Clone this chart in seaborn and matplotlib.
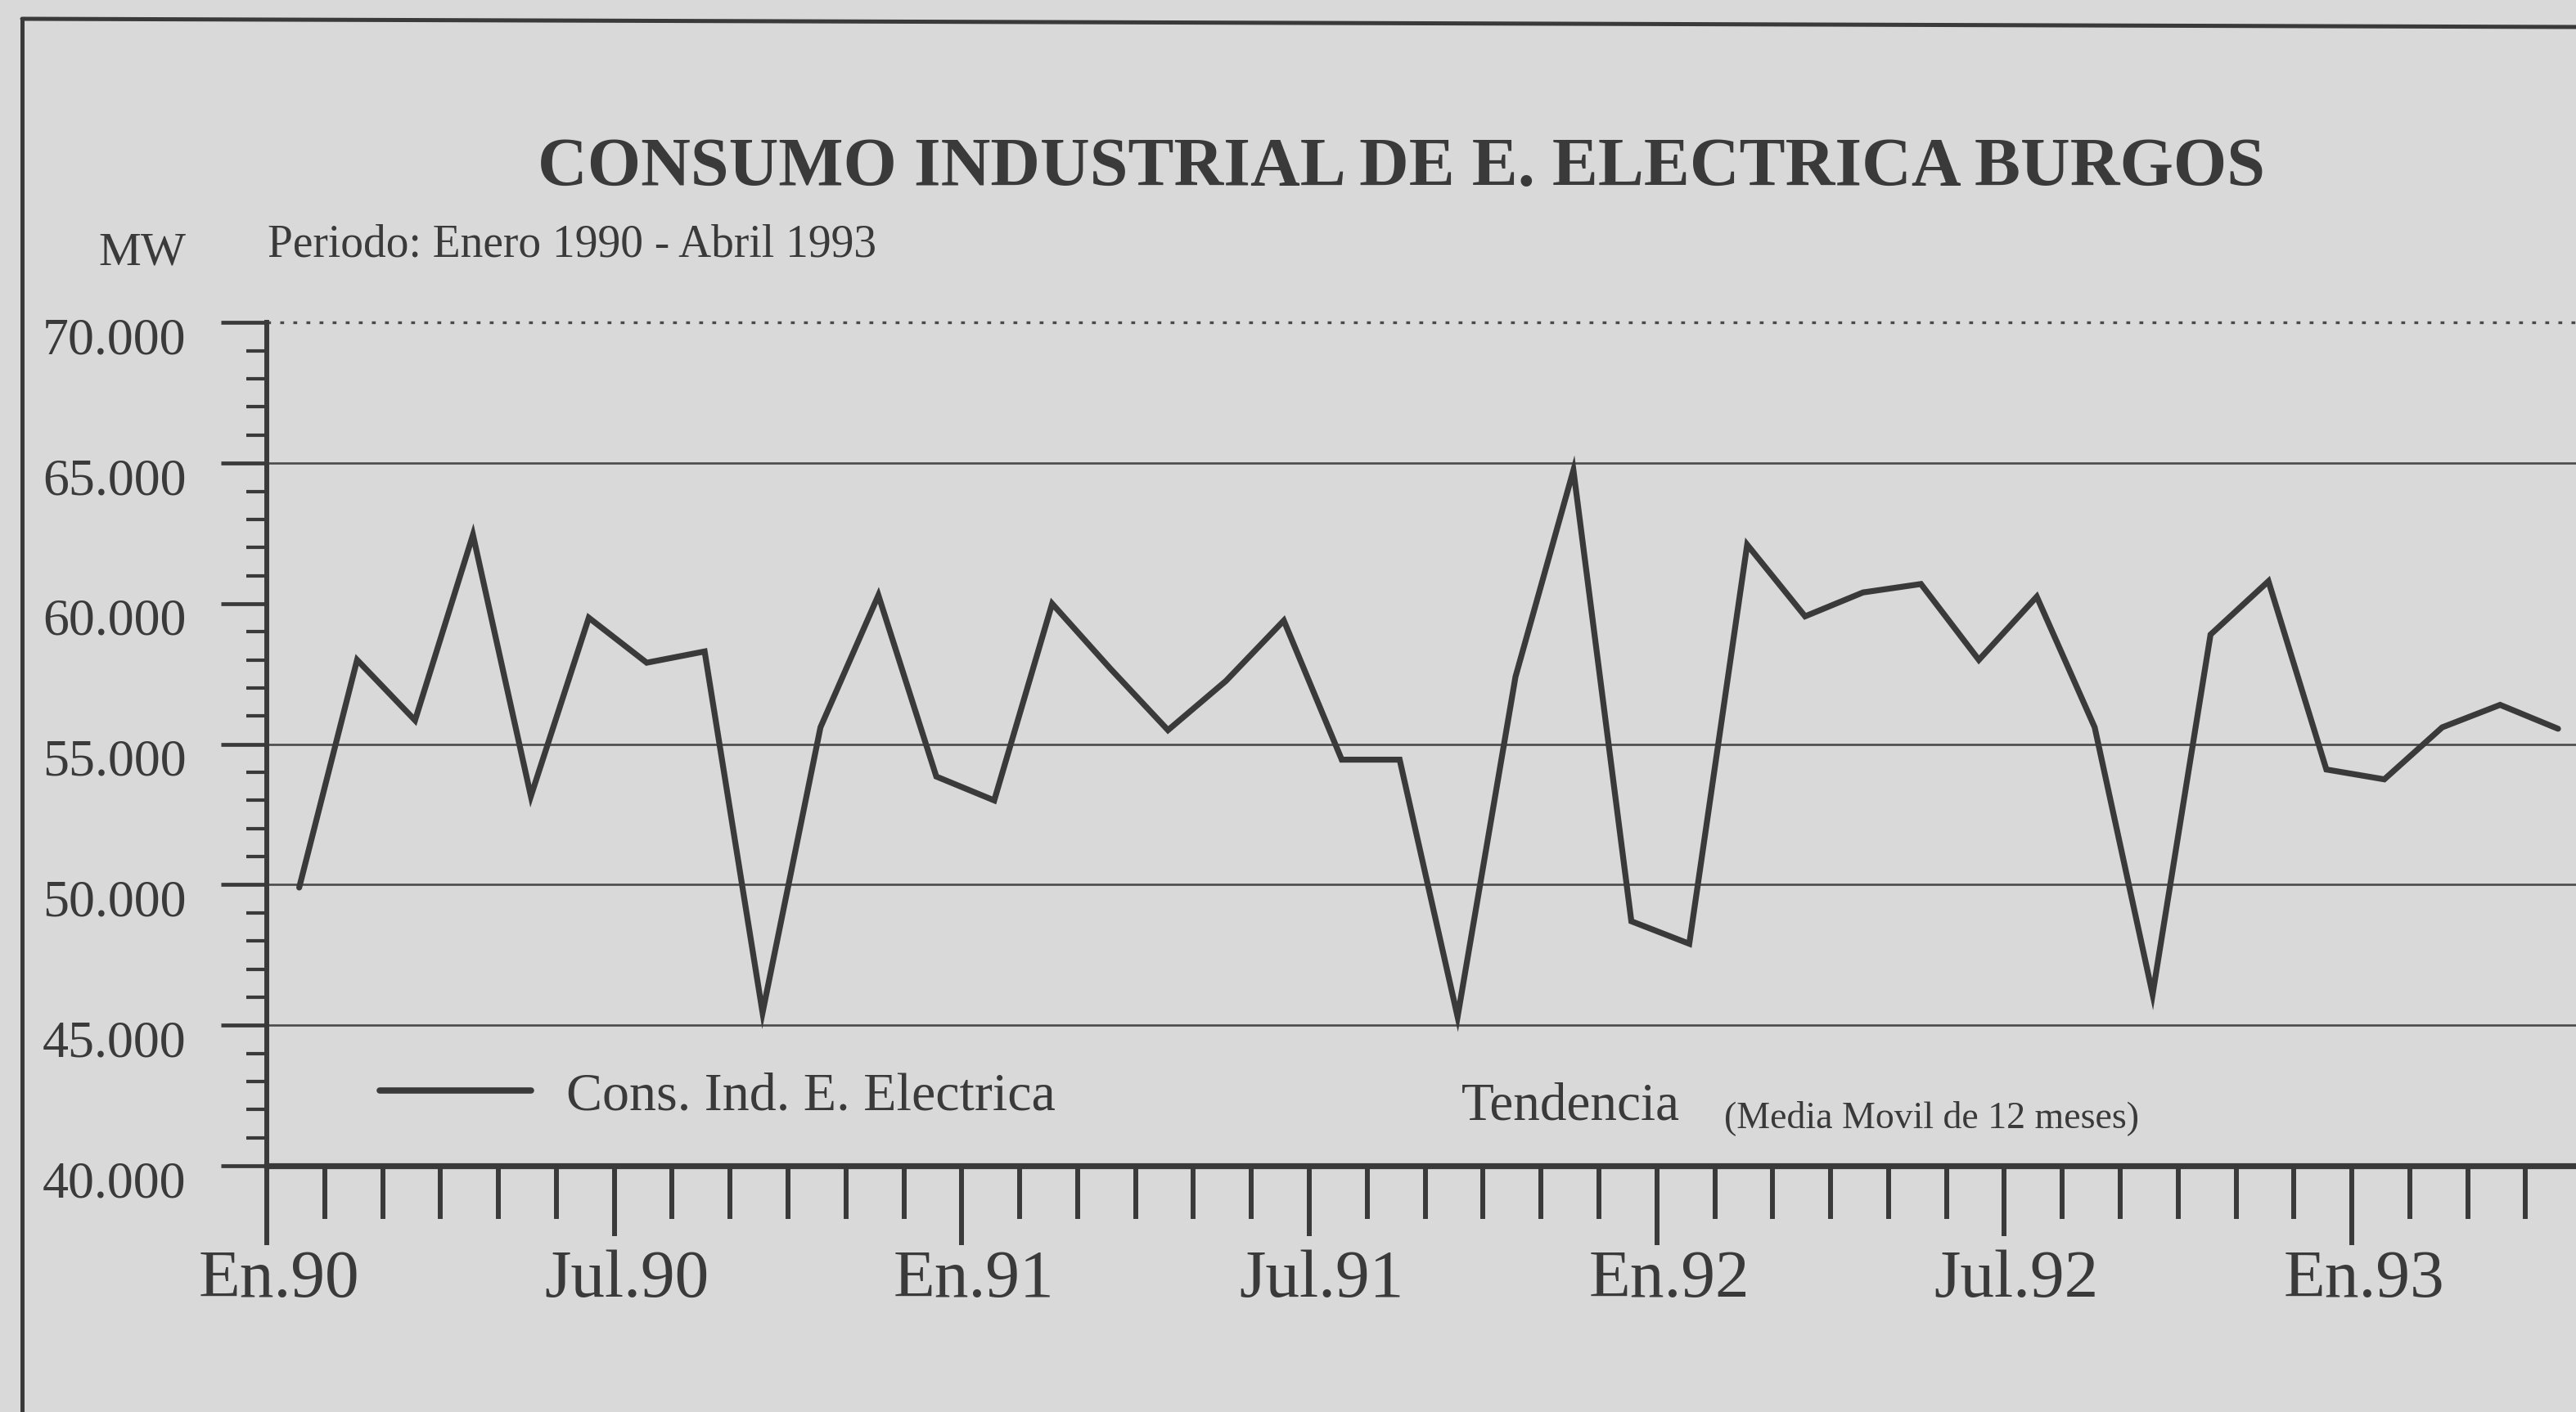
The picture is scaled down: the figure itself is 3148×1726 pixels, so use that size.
# Consumo industrial de energia electrica en Burgos, Ene 1990 - Abr 1993
import matplotlib as mpl
mpl.use('Agg')
import matplotlib.pyplot as plt
import matplotlib.ticker as mticker
import matplotlib.transforms as mtrans
from matplotlib.lines import Line2D
import numpy as np
import pandas as pd
import seaborn as sns

# Valores (MW, mensual)
meses = pd.period_range('1990-01', '1993-04', freq='M')
consumo = [49900, 58000, 55850, 62450, 53150, 59500, 57900, 58300, 45450, 55600,
           60300, 53850, 53000, 60000, 57700, 55500, 57250, 59400, 54450, 54450,
           45300, 57400, 64750, 48700, 47900, 62100, 59550, 60400, 60700, 58000,
           60250, 55600, 46100, 58900, 60800, 54100, 53750, 55600, 56400, 55550]
etiquetas_x = ['En.90', 'Jul.90', 'En.91', 'Jul.91', 'En.92', 'Jul.92', 'En.93']
lineas_h = [45000, 50000, 55000, 65000]
linea_punteada = 70000

titulo = 'CONSUMO INDUSTRIAL DE E. ELECTRICA BURGOS'
subtitulo = 'Periodo: Enero 1990 - Abril 1993'

# Estilo
fondo = '#d9d9d9'
tinta = '#3a3a3a'
W, H = 3148, 1726

sns.set_style('white')
plt.rcParams['font.family'] = ['Liberation Serif', 'DejaVu Serif']
plt.rcParams['text.color'] = tinta

def fx(px):
    return px / W

def fy(py):
    return 1 - py / H

fig = plt.figure(figsize=(W / 100, H / 100), dpi=100, facecolor=fondo)
ax = fig.add_axes([fx(326), fy(1425), 1 - fx(326), fy(394.4) - fy(1425)])
ax.set_facecolor(fondo)

df = pd.DataFrame({'mes': np.arange(len(meses)) + 0.56, 'MW': consumo})

for v in lineas_h:
    ax.axhline(v, color='#4a4a4a', lw=1.9, zorder=1)
ax.axhline(linea_punteada, color='#4a4a4a', lw=2.4, ls=(0, (1.4, 3.4)),
           zorder=1, clip_on=False)

sns.lineplot(data=df, x='mes', y='MW', ax=ax, color=tinta, lw=5.2,
             label='Cons. Ind. E. Electrica', zorder=3)
ax.lines[-1].set_solid_joinstyle('miter')

ax.set_xlim(0, (W - 326) / 70.78)
ax.set_ylim(40000, 70000)
ax.set_xlabel('')
ax.set_ylabel('')

for s in ['top', 'right']:
    ax.spines[s].set_visible(False)
ax.spines['left'].set_linewidth(4.3)
ax.spines['bottom'].set_linewidth(5.2)
ax.spines['left'].set_color(tinta)
ax.spines['bottom'].set_color(tinta)

# Eje Y
ax.yaxis.set_major_locator(mticker.MultipleLocator(5000))
ax.yaxis.set_minor_locator(mticker.MultipleLocator(1000))
ax.yaxis.set_major_formatter(mticker.FuncFormatter(
    lambda v, p: f'{v:,.0f}'.replace(',', '.')))
ax.tick_params(axis='y', which='major', left=True, direction='out', length=40,
               width=3.4, color=tinta, labelsize=46, labelcolor=tinta, pad=31)
ax.tick_params(axis='y', which='minor', left=True, direction='out', length=18,
               width=3.0, color=tinta)

# Eje X
pos_x = list(range(0, 37, 6))
ax.xaxis.set_major_locator(mticker.FixedLocator(pos_x))
ax.xaxis.set_minor_locator(mticker.MultipleLocator(1))
ax.set_xticklabels(etiquetas_x)
ax.tick_params(axis='x', which='major', bottom=True, direction='out', length=62,
               width=4.3, color=tinta, labelsize=60, labelcolor=tinta, pad=12)
ax.tick_params(axis='x', which='minor', bottom=True, direction='out', length=47,
               width=4.3, color=tinta)

leg = ax.legend(loc='center left', bbox_to_anchor=(fx(464), fy(1340)),
                bbox_transform=fig.transFigure, frameon=False, fontsize=47.5,
                handlelength=2.8, handletextpad=0.66, borderpad=0,
                borderaxespad=0, labelcolor=tinta)
for h in leg.get_lines():
    h.set_linewidth(5.5)

fig.text(fx(1713), fy(207), titulo, ha='center', va='center', fontsize=60.5,
         fontweight='bold', color=tinta)
fig.text(fx(327), fy(300), subtitulo, ha='left', va='center', fontsize=40,
         color=tinta)
fig.text(fx(120), fy(310), 'MW', ha='left', va='center', fontsize=42,
         color=tinta)
fig.text(fx(1786), fy(1353), 'Tendencia', ha='left', va='center', fontsize=47,
         color=tinta)
fig.text(fx(2107), fy(1367), '(Media Movil de 12 meses)', ha='left',
         va='center', fontsize=33, color=tinta)

# Marco del recorte
fig.add_artist(Line2D([fx(27), 1], [fy(23), fy(33)], transform=fig.transFigure,
                      color=tinta, lw=3.6))
fig.add_artist(Line2D([fx(27), fx(27)], [fy(23), 0], transform=fig.transFigure,
                      color=tinta, lw=3.6))

# Ticks de enero mas largos y etiquetas desplazadas como en el original
for p, t in zip(pos_x, ax.xaxis.get_major_ticks()):
    if p % 12 == 0:
        t.tick1line.set_markersize(70)
dx = mtrans.ScaledTranslation(0.15, 0, fig.dpi_scale_trans)
for lab in ax.get_xticklabels():
    lab.set_transform(lab.get_transform() + dx)
dy = mtrans.ScaledTranslation(0, -0.16, fig.dpi_scale_trans)
for lab in ax.get_yticklabels():
    lab.set_transform(lab.get_transform() + dy)

fig.savefig('out.png', dpi=100, facecolor=fondo)
